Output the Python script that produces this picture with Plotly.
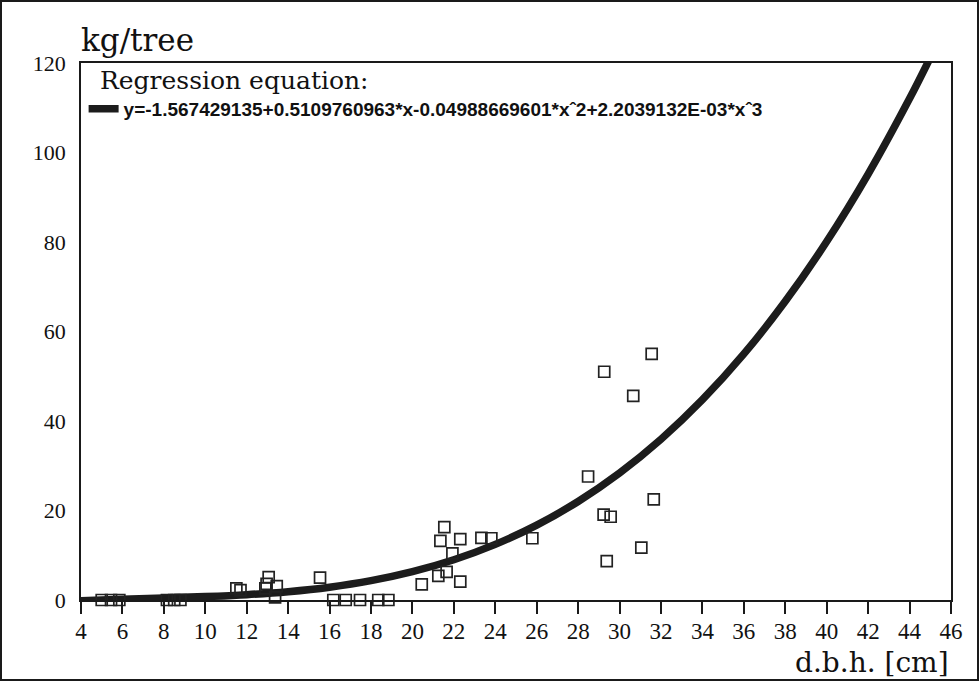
import plotly.graph_objects as go

# Observed data (d.b.h. in cm, yield in kg/tree)
dbh = [5.0, 5.45, 5.85, 8.15, 8.5, 8.8,
       11.5, 11.7, 12.9, 12.96, 13.06, 13.45, 13.37, 15.54,
       16.18, 16.78, 17.47, 18.35, 18.84,
       20.45, 21.25, 21.35, 21.54, 21.65, 21.93, 22.31, 22.31,
       23.33, 23.81, 25.79,
       28.48, 29.23, 29.26, 29.38, 29.57, 30.66, 31.05, 31.55, 31.65]
kg_tree = [0, 0, 0, 0, 0, 0,
           2.6, 2.2, 2.6, 3.6, 5.1, 3.1, 0.6, 5.0,
           0, 0, 0, 0, 0,
           3.5, 5.4, 13.2, 16.3, 6.3, 10.4, 13.6, 4.1,
           13.9, 13.8, 13.8,
           27.6, 19.1, 51.0, 8.7, 18.6, 45.6, 11.7, 55.0, 22.5]

# Regression curve
curve_x = [4, 6, 8, 10, 12, 14, 16, 18, 20, 22, 24, 26, 28, 30, 32, 34, 36, 38, 40, 42, 44, 45]
curve_y = [-0.18, 0.18, 0.46, 0.76, 1.19, 1.86, 2.86, 4.32, 6.33, 9.00, 12.43, 16.73,
           22.01, 28.37, 35.91, 44.75, 54.99, 66.74, 80.10, 95.17, 112.05, 121.2]

x_ticks = list(range(4, 47, 2))
y_ticks = [0, 20, 40, 60, 80, 100, 120]

legend_title = "Regression equation:"
equation = "y=-1.567429135+0.5109760963*x-0.04988669601*xˆ2+2.2039132E-03*xˆ3"

SERIF = "Liberation Serif"
SERIF_WIDE = "DejaVu Serif"

fig = go.Figure()
fig.add_trace(go.Scatter(
    x=curve_x, y=curve_y, mode="lines", name=equation,
    line=dict(color="#1c1c1c", width=7.5, shape="spline"),
))
fig.add_trace(go.Scatter(
    x=dbh, y=kg_tree, mode="markers", showlegend=False, cliponaxis=False,
    marker=dict(symbol="square-open", size=11, color="#222222", line=dict(width=1.7, color="#222222")),
))

L, R, T, B = 81, 29, 63, 82
W, H = 980, 682
pw, ph = W - L - R, H - T - B

fig.update_layout(
    width=W, height=H,
    margin=dict(l=L, r=R, t=T, b=B, pad=0),
    paper_bgcolor="white", plot_bgcolor="white",
    showlegend=True,
    legend=dict(
        x=0.003, y=1 - 27 / ph, xanchor="left", yanchor="top",
        bgcolor="rgba(0,0,0,0)", borderwidth=0,
        font=dict(family="Liberation Sans", size=19, color="#111", weight="bold"),
        itemwidth=30, tracegroupgap=0,
    ),
    xaxis=dict(
        range=[4, 46], tickvals=x_ticks, ticktext=[str(v) for v in x_ticks],
        showgrid=False, zeroline=False,
        showline=True, linecolor="#1a1a1a", linewidth=1.5, mirror=True,
        ticks="outside", ticklen=12, tickwidth=1.5, tickcolor="#1a1a1a",
        tickfont=dict(family=SERIF, size=23, color="#111"),
        ticklabelstandoff=-2,
    ),
    yaxis=dict(
        range=[0, 120], tickvals=y_ticks, ticktext=[str(v) for v in y_ticks],
        showgrid=False, zeroline=False,
        showline=True, linecolor="#1a1a1a", linewidth=1.5, mirror=True,
        ticks="", tickfont=dict(family=SERIF, size=22, color="#111"),
        ticklabelstandoff=9,
    ),
    annotations=[
        dict(text="kg/tree", xref="paper", yref="paper", x=-0.002, y=1 + (T - 40) / ph,
             xanchor="left", yanchor="middle", showarrow=False,
             font=dict(family=SERIF_WIDE, size=31, color="#111")),
        dict(text="d.b.h. [cm]", xref="paper", yref="paper", x=1.0, y=-(662 - (T + ph)) / ph,
             xanchor="right", yanchor="middle", showarrow=False,
             font=dict(family=SERIF_WIDE, size=28, color="#111")),
        dict(text=legend_title, xref="paper", yref="paper", x=17 / pw, y=1 - (80 - T) / ph,
             xanchor="left", yanchor="middle", showarrow=False,
             font=dict(family=SERIF_WIDE, size=25, color="#111")),
    ],
    shapes=[
        dict(type="rect", xref="paper", yref="paper",
             x0=(1 - L) / pw, x1=(W - 2 - L) / pw,
             y0=-(H - 2 - (T + ph)) / ph, y1=1 + (T - 1) / ph,
             line=dict(color="#1a1a1a", width=2)),
    ],
)

fig.write_html("out.html", config={"displayModeBar": False},
               post_script="document.body.style.margin='0';document.body.style.overflow='hidden';")
